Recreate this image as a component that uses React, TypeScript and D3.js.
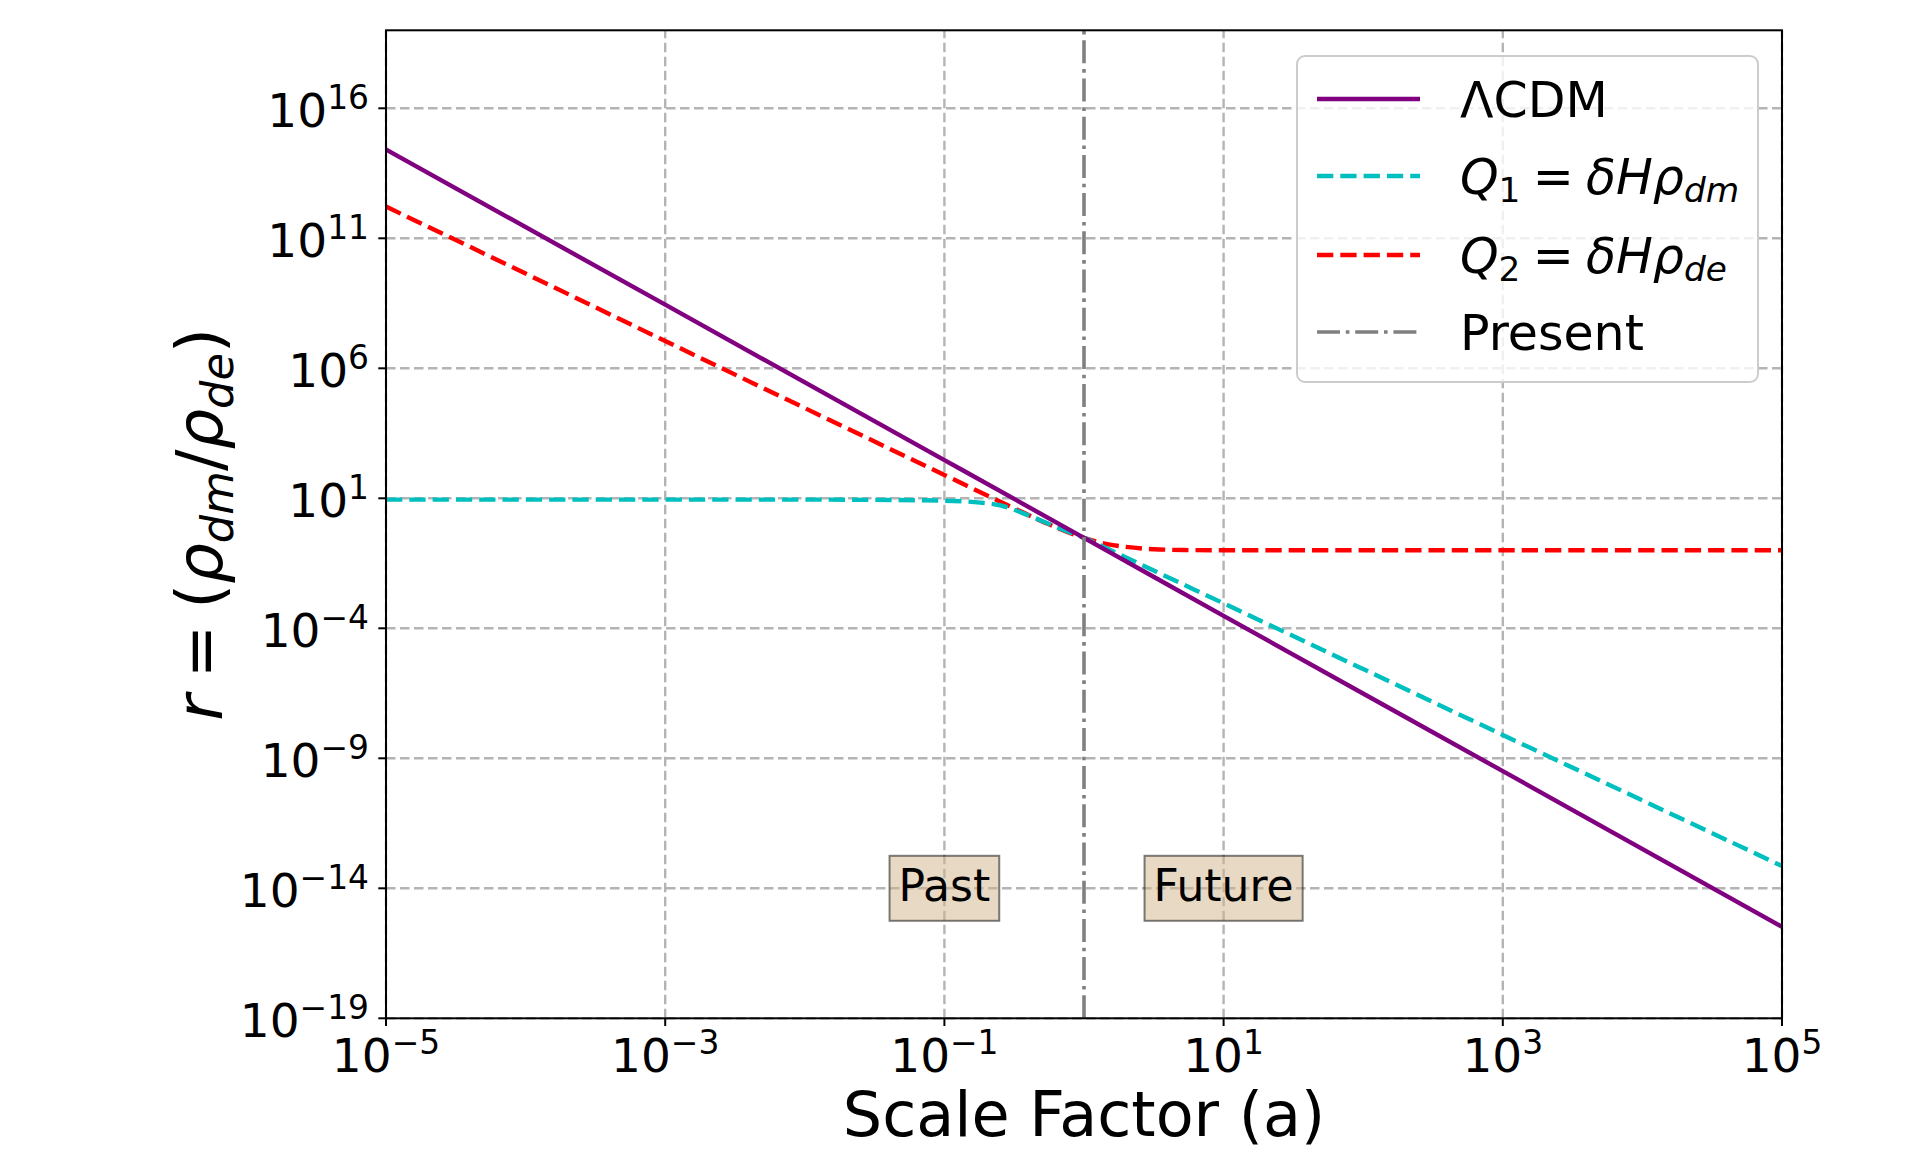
import React, { useRef, useEffect } from "react";
import * as d3 from "d3";

// values (scale factor a, ratio r)
const lcdmA = [1e-5, 1e-3, 1e-1, 1, 10, 1e3, 1e5];
const lcdmR = [2.6e14, 2.8e8, 295, 0.3, 3.0e-4, 3.2e-10, 3.3e-16];

const q1A = [1e-5, 1e-4, 1e-3, 1e-2, 0.03, 0.1, 0.18, 0.25, 0.4, 0.63, 1, 1.78, 3.16, 10, 100, 1e3, 1e4, 1e5];
const q1R = [8.9, 8.9, 8.9, 8.9, 8.7, 8.1, 6.8, 5.4, 2.2, 0.79, 0.3, 0.071, 0.0166, 9.1e-4, 2.7e-6, 7.9e-9, 2.4e-11, 7.2e-14];

const q2A = [1e-5, 1e-4, 1e-3, 1e-2, 0.1, 0.32, 0.56, 1, 1.41, 2, 3.16, 5.6, 10, 100, 1e3, 1e4, 1e5];
const q2R = [1.66e12, 4.4e9, 1.12e7, 2.95e4, 79, 4.0, 1.0, 0.3, 0.18, 0.135, 0.11, 0.102, 0.1, 0.1, 0.1, 0.1, 0.1];

const presentA = 1;
const xTicks = [1e-5, 1e-3, 1e-1, 1e1, 1e3, 1e5];
const yTicks = [1e16, 1e11, 1e6, 1e1, 1e-4, 1e-9, 1e-14, 1e-19];
const eraLabels = [
  { a: 0.1, r: 1e-14, text: "Past" },
  { a: 10, r: 1e-14, text: "Future" },
];

type Tok = { t: string; it?: boolean; sub?: boolean; sup?: boolean };

const legendLabels: Tok[][] = [
  [{ t: "ΛCDM" }],
  [{ t: "Q", it: true }, { t: "1", sub: true }, { t: "\u2005=\u2005" }, { t: "δHρ", it: true }, { t: "dm", it: true, sub: true }],
  [{ t: "Q", it: true }, { t: "2", sub: true }, { t: "\u2005=\u2005" }, { t: "δHρ", it: true }, { t: "de", it: true, sub: true }],
  [{ t: "Present" }],
];
const yLabel: Tok[] = [
  { t: "r", it: true }, { t: "\u2005=\u2005(" }, { t: "ρ", it: true }, { t: "dm", it: true, sub: true },
  { t: "/" }, { t: "ρ", it: true }, { t: "de", it: true, sub: true }, { t: ")" },
];

const addTokens = (text: any, tokens: Tok[], size: number) => {
  let shift = 0;
  tokens.forEach((tk) => {
    const target = tk.sub ? size * 0.17 : tk.sup ? -size * 0.39 : 0;
    text.append("tspan")
      .attr("dy", target - shift)
      .attr("font-size", tk.sub || tk.sup ? size * 0.7 : size)
      .attr("font-style", tk.it ? "italic" : "normal")
      .text(tk.t);
    shift = target;
  });
};

const powTokens = (v: number): Tok[] => {
  const e = Math.round(Math.log10(v));
  return [{ t: "10" }, { t: (e < 0 ? "\u2212" : "") + Math.abs(e), sup: true }];
};

export default function App() {
  const ref = useRef<SVGSVGElement>(null);

  useEffect(() => {
    if (!ref.current) return;
    const svg = d3.select(ref.current);
    svg.selectAll("*").remove();

    const left = 386, right = 1782, top = 30.3, bottom = 1018.3;
    const x = d3.scaleLog().domain([1e-5, 1e5]).range([left, right]);
    const y = d3.scaleLog().domain([1e-19, 1e19]).range([bottom, top]);

    svg.append("defs").append("clipPath").attr("id", "plotclip")
      .append("rect").attr("x", left).attr("y", top).attr("width", right - left).attr("height", bottom - top);

    // grid
    const grid = svg.append("g").attr("stroke", "#b4b4b4").attr("stroke-width", 2.4).attr("stroke-dasharray", "9.5 4.5");
    grid.selectAll("line.gx").data(xTicks).join("line")
      .attr("x1", d => x(d)).attr("x2", d => x(d)).attr("y1", bottom).attr("y2", top);
    grid.selectAll("line.gy").data(yTicks).join("line")
      .attr("class", "gy")
      .attr("x1", left).attr("x2", right).attr("y1", d => y(d)).attr("y2", d => y(d));

    const line = d3.line<[number, number]>()
      .x(d => x(d[0])).y(d => y(d[1]))
      .curve(d3.curveMonotoneX);

    const curves = svg.append("g").attr("clip-path", "url(#plotclip)").attr("fill", "none");
    curves.append("path")
      .attr("d", line(q2A.map((a, i) => [a, q2R[i]])))
      .attr("stroke", "#ff0000").attr("stroke-width", 4.4).attr("stroke-dasharray", "16.3 7");
    curves.append("path")
      .attr("d", line(q1A.map((a, i) => [a, q1R[i]])))
      .attr("stroke", "#00bfbf").attr("stroke-width", 4.4).attr("stroke-dasharray", "16.3 7");
    curves.append("path")
      .attr("d", line(lcdmA.map((a, i) => [a, lcdmR[i]])))
      .attr("stroke", "#800080").attr("stroke-width", 4.4);
    curves.append("line")
      .attr("x1", x(presentA)).attr("x2", x(presentA)).attr("y1", bottom).attr("y2", top)
      .attr("stroke", "#808080").attr("stroke-width", 3.6).attr("stroke-dasharray", "23 5.8 3.6 5.8");

    // Past / Future boxes
    eraLabels.forEach(e => {
      const g = svg.append("g");
      const rect = g.append("rect");
      const cy = y(e.r);
      const t = g.append("text")
        .attr("x", x(e.a)).attr("y", cy + 12.5)
        .attr("text-anchor", "middle").attr("font-size", 44).attr("fill", "#000")
        .text(e.text);
      const bb = (t.node() as SVGTextElement).getBBox();
      rect.attr("x", bb.x - 9).attr("width", bb.width + 18)
        .attr("y", cy - 32.5).attr("height", 65)
        .attr("fill", "tan").attr("fill-opacity", 0.5)
        .attr("stroke", "#000").attr("stroke-opacity", 0.5).attr("stroke-width", 2);
    });

    // spines
    svg.append("rect").attr("x", left).attr("y", top).attr("width", right - left).attr("height", bottom - top)
      .attr("fill", "none").attr("stroke", "#000").attr("stroke-width", 2);

    // ticks
    const tk = svg.append("g").attr("stroke", "#000").attr("stroke-width", 2);
    tk.selectAll("line.tx").data(xTicks).join("line")
      .attr("x1", d => x(d)).attr("x2", d => x(d)).attr("y1", bottom).attr("y2", bottom + 7.7);
    tk.selectAll("line.ty").data(yTicks).join("line")
      .attr("class", "ty")
      .attr("x1", left - 7.7).attr("x2", left).attr("y1", d => y(d)).attr("y2", d => y(d));

    xTicks.forEach(v => {
      const t = svg.append("text").attr("x", x(v)).attr("y", 1072)
        .attr("text-anchor", "middle").attr("fill", "#000");
      addTokens(t, powTokens(v), 47);
    });
    yTicks.forEach(v => {
      const t = svg.append("text").attr("x", 369).attr("y", y(v) + 19)
        .attr("text-anchor", "end").attr("fill", "#000");
      addTokens(t, powTokens(v), 47);
    });

    // axis labels
    svg.append("text").attr("x", (left + right) / 2).attr("y", 1136)
      .attr("text-anchor", "middle").attr("font-size", 62).text("Scale Factor (a)");
    const yl = svg.append("text")
      .attr("transform", `translate(222,${(top + bottom) / 2}) rotate(-90)`)
      .attr("text-anchor", "middle");
    addTokens(yl, yLabel, 64);

    // legend
    const lg = svg.append("g");
    lg.append("rect").attr("x", 1297).attr("y", 56).attr("width", 461).attr("height", 326).attr("rx", 8)
      .attr("fill", "#fff").attr("fill-opacity", 0.8).attr("stroke", "#cccccc").attr("stroke-width", 2);
    const rows = [99, 176, 255, 332];
    const handles = [
      { c: "#800080", w: 4.4, dash: null },
      { c: "#00bfbf", w: 4.4, dash: "16.3 7" },
      { c: "#ff0000", w: 4.4, dash: "16.3 7" },
      { c: "#808080", w: 3.6, dash: "23 5.8 3.6 5.8" },
    ];
    legendLabels.forEach((lab, i) => {
      lg.append("line").attr("x1", 1317).attr("x2", 1420).attr("y1", rows[i]).attr("y2", rows[i])
        .attr("stroke", handles[i].c).attr("stroke-width", handles[i].w)
        .attr("stroke-dasharray", handles[i].dash);
      const t = lg.append("text").attr("x", 1460).attr("y", rows[i] + 18).attr("fill", "#000");
      addTokens(t, lab, 49);
    });
  }, []);

  return (
    <svg
      ref={ref}
      width={1932}
      height={1150}
      fontFamily="DejaVu Sans"
      style={{ position: "absolute", left: 0, top: 0, background: "#fff" }}
    />
  );
}
